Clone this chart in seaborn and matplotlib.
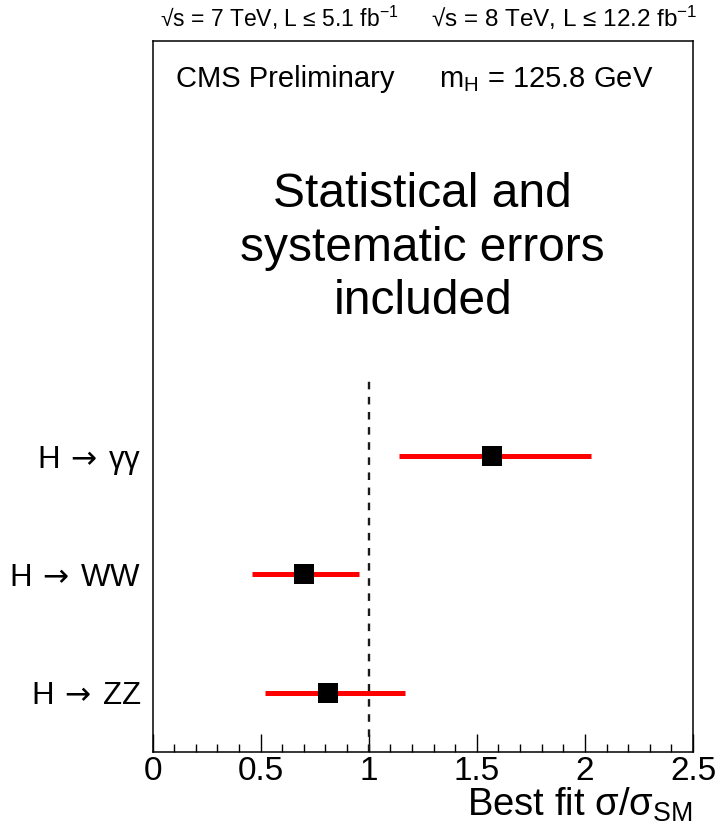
import numpy as np
import pandas as pd
import seaborn as sns
import matplotlib
matplotlib.use("Agg")
import matplotlib.pyplot as plt
from matplotlib.ticker import MultipleLocator

# Best-fit signal strength per Higgs decay channel
labels = [r"H$\,\rightarrow\,$ZZ", r"H$\,\rightarrow\,$WW", r"H$\,\rightarrow\,$γγ"]
best_fit = [0.81, 0.70, 1.57]
err_low = [0.52, 0.46, 1.14]
err_high = [1.17, 0.957, 2.03]
row_pos = [0.5, 1.5, 2.5]

x_ticks = [0, 0.5, 1, 1.5, 2, 2.5]
x_tick_labels = ["0", "0.5", "1", "1.5", "2", "2.5"]

df = pd.DataFrame({"label": labels, "mu": best_fit, "lo": err_low,
                   "hi": err_high, "pos": row_pos})

sns.set_theme(style="white")
plt.rcParams["font.family"] = ["Liberation Sans", "DejaVu Sans"]
plt.rcParams["mathtext.fontset"] = "custom"
plt.rcParams["mathtext.rm"] = "Liberation Sans"
plt.rcParams["mathtext.it"] = "Liberation Sans"
plt.rcParams["mathtext.sf"] = "Liberation Sans"
for key in ["text.color", "axes.labelcolor", "xtick.color", "ytick.color"]:
    plt.rcParams[key] = "black"

fig = plt.figure(figsize=(7.16, 8.34), dpi=100)
ax = fig.add_axes([0.2130, 0.0983, 0.7549, 0.8531])

# SM expectation
ax.plot([1, 1], [0, 3.15], color="#1a1a1a", lw=1.7, dashes=(3.2, 3.2), zorder=1)

# uncertainty bands
ax.hlines(df["pos"], df["lo"], df["hi"], color="#ff0000", lw=3.6, zorder=2)

# central values
sns.scatterplot(data=df, x="mu", y="pos", marker="s", s=14.4 ** 2,
                color="black", edgecolor="black", linewidth=0, ax=ax, zorder=3)

ax.set_xlim(0, 2.5)
ax.set_ylim(0, 6)
ax.set_xticks(x_ticks)
ax.set_xticklabels(x_tick_labels, fontsize=24)
ax.xaxis.set_minor_locator(MultipleLocator(0.1))
ax.tick_params(axis="x", which="major", direction="in", length=12.7, width=1.0,
               pad=3, bottom=True, top=False)
ax.tick_params(axis="x", which="minor", direction="in", length=6, width=1.0,
               bottom=True, top=False)
ax.set_yticks(row_pos)
ax.set_yticklabels(df["label"], fontsize=22.5, math_fontfamily="dejavusans")
ax.tick_params(axis="y", which="both", length=0, pad=8, left=False)

for sp in ax.spines.values():
    sp.set_color("black")
    sp.set_linewidth(1.1)

ax.set_xlabel(r"Best fit σ/σ$_{\mathrm{SM}}$", fontsize=27.5, loc="right",
              labelpad=-1)
ax.set_ylabel("")

# header: luminosity for both centre-of-mass energies
fig.text(160 / 716, 0.979, "√s = 7 TeV, L ≤ 5.1 fb$^{-1}$",
         ha="left", va="center", fontsize=16.5)
fig.text(697 / 716, 0.979, "√s = 8 TeV, L ≤ 12.2 fb$^{-1}$",
         ha="right", va="center", fontsize=17.5)

ax.text(0.044, 0.935, "CMS Preliminary", transform=ax.transAxes,
        ha="left", va="baseline", fontsize=21)
ax.text(0.53, 0.935, r"m$_{\mathrm{H}}$ = 125.8 GeV", transform=ax.transAxes,
        ha="left", va="baseline", fontsize=21)
ax.text(1.25, 4.25, "Statistical and\nsystematic errors\nincluded",
        ha="center", va="center", fontsize=34.5, linespacing=1.23)

fig.savefig("out.png", dpi=100, facecolor="white")
